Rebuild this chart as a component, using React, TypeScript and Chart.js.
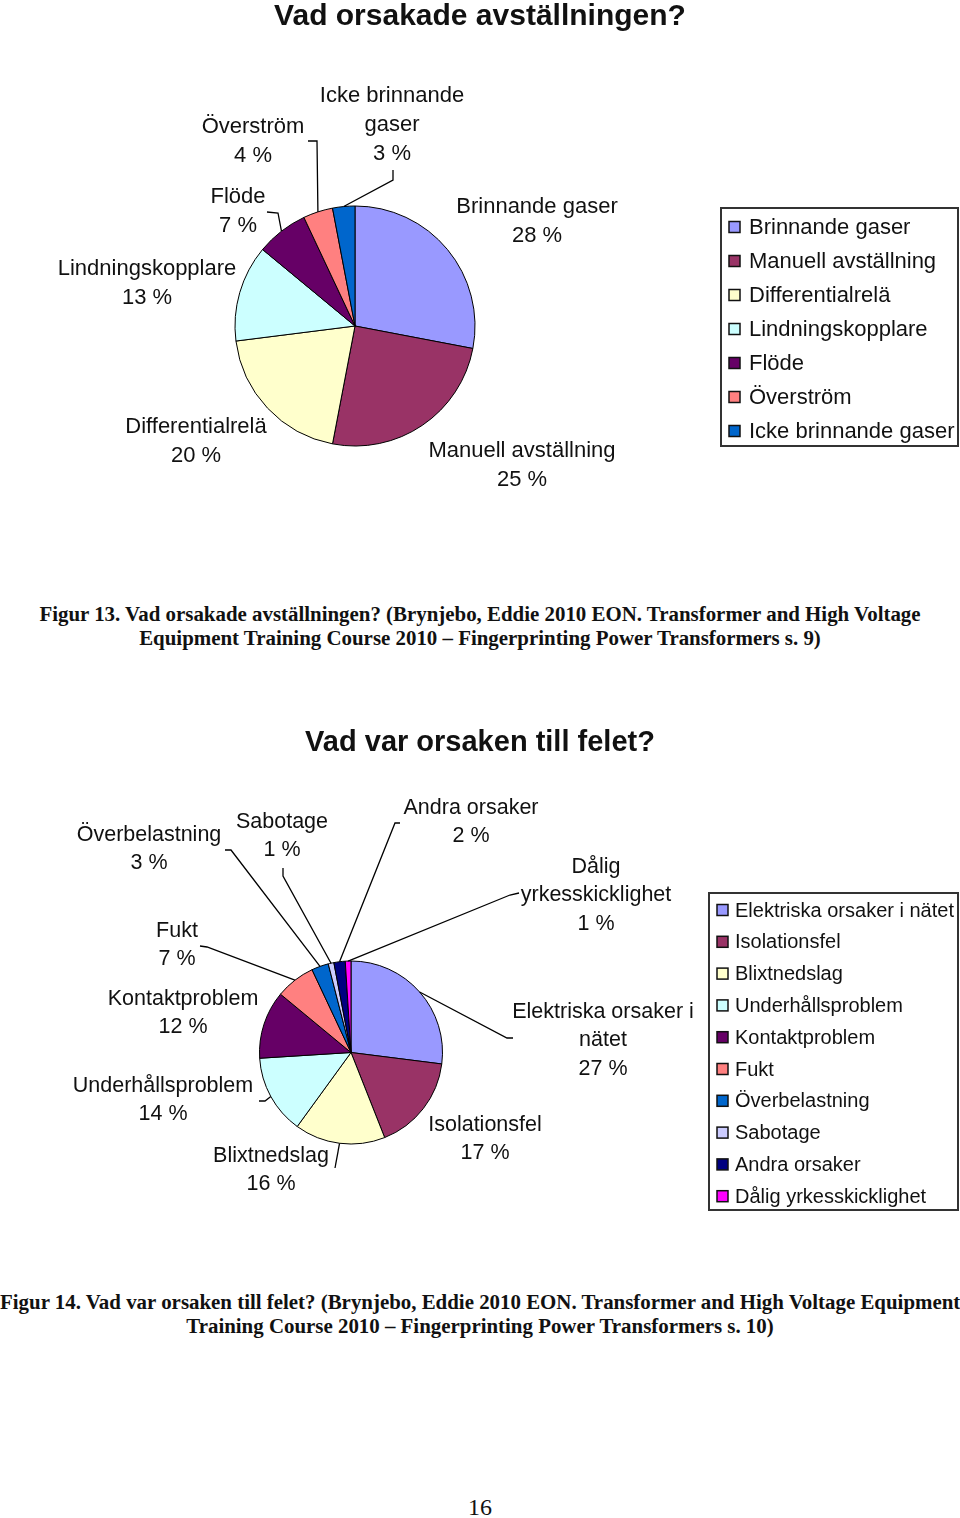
import React, { useEffect, useRef } from 'react';
import { Chart, registerables } from 'chart.js';

Chart.register(...registerables);

// ---------- data ----------
const chart1Title = 'Vad orsakade avställningen?';
const chart1Labels = [
  'Brinnande gaser',
  'Manuell avställning',
  'Differentialrelä',
  'Lindningskopplare',
  'Flöde',
  'Överström',
  'Icke brinnande gaser',
];
const chart1Values = [28, 25, 20, 13, 7, 4, 3];

const chart2Title = 'Vad var orsaken till felet?';
const chart2Labels = [
  'Elektriska orsaker i nätet',
  'Isolationsfel',
  'Blixtnedslag',
  'Underhållsproblem',
  'Kontaktproblem',
  'Fukt',
  'Överbelastning',
  'Sabotage',
  'Andra orsaker',
  'Dålig yrkesskicklighet',
];
const chart2Values = [27, 17, 16, 14, 12, 7, 3, 1, 2, 1];

const sliceColors = [
  '#9999FF',
  '#993366',
  '#FFFFCC',
  '#CCFFFF',
  '#660066',
  '#FF8080',
  '#0066CC',
  '#CCCCFF',
  '#000080',
  '#FF00FF',
];

const caption1 = [
  'Figur 13. Vad orsakade avställningen? (Brynjebo, Eddie 2010 EON. Transformer and High Voltage',
  'Equipment Training Course 2010 – Fingerprinting Power Transformers s. 9)',
];
const caption2 = [
  'Figur 14. Vad var orsaken till felet? (Brynjebo, Eddie 2010 EON. Transformer and High Voltage Equipment',
  'Training Course 2010 – Fingerprinting Power Transformers s. 10)',
];
const pageNumber = '16';

// ---------- layout (page coordinates) ----------
type Pt = [number, number];
type LabelLayout = { cx: number; y: number; split: number; leader?: Pt[] };

const layout1: LabelLayout[] = [
  { cx: 537, y: 207, split: 0 },
  { cx: 522, y: 451, split: 0 },
  { cx: 196, y: 427, split: 0 },
  { cx: 147, y: 269, split: 0 },
  { cx: 238, y: 197, split: 0, leader: [[267, 212], [278, 213]] },
  { cx: 253, y: 127, split: 0, leader: [[308, 141], [317, 141]] },
  { cx: 392, y: 96, split: 2, leader: [[393, 170], [393, 180]] },
];

const layout2: LabelLayout[] = [
  { cx: 603, y: 1012, split: 3, leader: [[513, 1038], [507, 1038]] },
  { cx: 485, y: 1125, split: 0 },
  { cx: 271, y: 1156, split: 0, leader: [[335, 1168]] },
  { cx: 163, y: 1086, split: 0, leader: [[259, 1101], [265, 1101]] },
  { cx: 183, y: 999, split: 0 },
  { cx: 177, y: 931, split: 0, leader: [[200, 946], [207, 947]] },
  { cx: 149, y: 835, split: 0, leader: [[225, 850], [231, 850]] },
  { cx: 282, y: 822, split: 0, leader: [[283, 868], [283, 876]] },
  { cx: 471, y: 808, split: 0, leader: [[400, 823], [395, 823]] },
  { cx: 596, y: 867, split: 1, leader: [[519, 893], [510, 895]] },
];

type ChartSpec = {
  top: number;
  height: number;
  title: string;
  titleY: number;
  titleSize: number;
  labels: string[];
  values: number[];
  layout: LabelLayout[];
  labelSize: number;
  lineH: number;
  center: Pt;
  radius: number;
  legend: { left: number; top: number; right: number; bottom: number; firstRow: number; step: number; swatchX: number; textX: number; size: number };
};

const spec1: ChartSpec = {
  top: 0,
  height: 560,
  title: chart1Title,
  titleY: 17,
  titleSize: 30,
  labels: chart1Labels,
  values: chart1Values,
  layout: layout1,
  labelSize: 22,
  lineH: 29,
  center: [355, 326],
  radius: 120,
  legend: { left: 721, top: 208, right: 958, bottom: 446, firstRow: 227, step: 34, swatchX: 729, textX: 749, size: 22 },
};

const spec2: ChartSpec = {
  top: 690,
  height: 570,
  title: chart2Title,
  titleY: 743,
  titleSize: 29,
  labels: chart2Labels,
  values: chart2Values,
  layout: layout2,
  labelSize: 21.5,
  lineH: 28.5,
  center: [351, 1052.5],
  radius: 91.5,
  legend: { left: 709, top: 893, right: 958, bottom: 1210, firstRow: 910, step: 31.8, swatchX: 717, textX: 735, size: 20 },
};

const SANS = '"Liberation Sans", Arial, sans-serif';

function makeDecor(s: ChartSpec) {
  return {
    id: 'decor',
    afterDraw(chart: any) {
      const ctx: CanvasRenderingContext2D = chart.ctx;
      const oy = s.top;
      ctx.save();
      ctx.fillStyle = '#111';
      ctx.textAlign = 'center';
      ctx.textBaseline = 'middle';
      ctx.font = `bold ${s.titleSize}px ${SANS}`;
      ctx.fillText(s.title, 480, s.titleY - oy);

      ctx.font = `${s.labelSize}px ${SANS}`;
      const meta = chart.getDatasetMeta(0);
      s.labels.forEach((lab, i) => {
        const L = s.layout[i];
        const words = lab.split(' ');
        const lines = L.split ? [words.slice(0, L.split).join(' '), words.slice(L.split).join(' ')] : [lab];
        lines.push(`${s.values[i]} %`);
        lines.forEach((t, k) => ctx.fillText(t, L.cx, L.y + k * s.lineH - oy));
        if (L.leader) {
          const arc = meta.data[i];
          const p = arc.getProps(['x', 'y', 'startAngle', 'endAngle', 'outerRadius'], true);
          const mid = (p.startAngle + p.endAngle) / 2;
          const ax = p.x + Math.cos(mid) * p.outerRadius;
          const ay = p.y + Math.sin(mid) * p.outerRadius;
          ctx.beginPath();
          ctx.strokeStyle = '#000';
          ctx.lineWidth = 1.3;
          L.leader.forEach((pt, k) => {
            if (k === 0) ctx.moveTo(pt[0], pt[1] - oy);
            else ctx.lineTo(pt[0], pt[1] - oy);
          });
          ctx.lineTo(ax, ay);
          ctx.stroke();
        }
      });

      // legend
      const g = s.legend;
      ctx.strokeStyle = '#333';
      ctx.lineWidth = 2;
      ctx.strokeRect(g.left, g.top - oy, g.right - g.left, g.bottom - g.top);
      ctx.font = `${g.size}px ${SANS}`;
      ctx.textAlign = 'left';
      s.labels.forEach((lab, i) => {
        const ry = g.firstRow + i * g.step - oy;
        ctx.fillStyle = sliceColors[i];
        ctx.fillRect(g.swatchX, ry - 5.5, 11, 11);
        ctx.strokeStyle = '#111';
        ctx.lineWidth = 1.5;
        ctx.strokeRect(g.swatchX, ry - 5.5, 11, 11);
        ctx.fillStyle = '#111';
        ctx.fillText(lab, g.textX, ry + 1);
      });
      ctx.restore();
    },
  };
}

function PieCanvas({ s }: { s: ChartSpec }) {
  const ref = useRef<HTMLCanvasElement | null>(null);
  useEffect(() => {
    if (!ref.current) return;
    const side = s.radius * 2 + 1;
    const cxC = s.center[0];
    const cyC = s.center[1] - s.top;
    const left = cxC - side / 2;
    const top = cyC - side / 2;
    const chart = new Chart(ref.current, {
      type: 'pie',
      data: {
        labels: s.labels,
        datasets: [
          {
            data: s.values,
            backgroundColor: sliceColors.slice(0, s.values.length),
            borderColor: '#000',
            borderWidth: 1,
          },
        ],
      },
      options: {
        responsive: false,
        animation: false,
        devicePixelRatio: 1,
        events: [],
        layout: {
          padding: { left, top, right: 960 - left - side, bottom: s.height - top - side },
        },
        plugins: {
          legend: { display: false },
          tooltip: { enabled: false },
          title: { display: false },
        },
      },
      plugins: [makeDecor(s)],
    } as any);
    return () => chart.destroy();
  }, [s]);
  return (
    <canvas
      ref={ref}
      width={960}
      height={s.height}
      style={{ position: 'absolute', left: 0, top: s.top, width: 960, height: s.height }}
    />
  );
}

const capStyle: React.CSSProperties = {
  position: 'absolute',
  left: 0,
  width: 960,
  textAlign: 'center',
  fontFamily: '"Liberation Serif", "Times New Roman", serif',
  fontWeight: 'bold',
  fontSize: 20.9,
  lineHeight: '24px',
  whiteSpace: 'nowrap',
  color: '#111',
};

export default function App() {
  return (
    <div style={{ position: 'absolute', left: 0, top: 0, width: 960, height: 1518, background: '#fff', overflow: 'hidden' }}>
      <PieCanvas s={spec1} />
      <div style={{ ...capStyle, top: 602 }}>
        {caption1.map((l, i) => (
          <div key={i}>{l}</div>
        ))}
      </div>
      <PieCanvas s={spec2} />
      <div style={{ ...capStyle, top: 1290 }}>
        {caption2.map((l, i) => (
          <div key={i}>{l}</div>
        ))}
      </div>
      <div
        style={{
          position: 'absolute',
          left: 0,
          width: 960,
          top: 1494,
          textAlign: 'center',
          fontFamily: '"Liberation Serif", "Times New Roman", serif',
          fontSize: 24,
          lineHeight: '26px',
          color: '#111',
        }}
      >
        {pageNumber}
      </div>
    </div>
  );
}
